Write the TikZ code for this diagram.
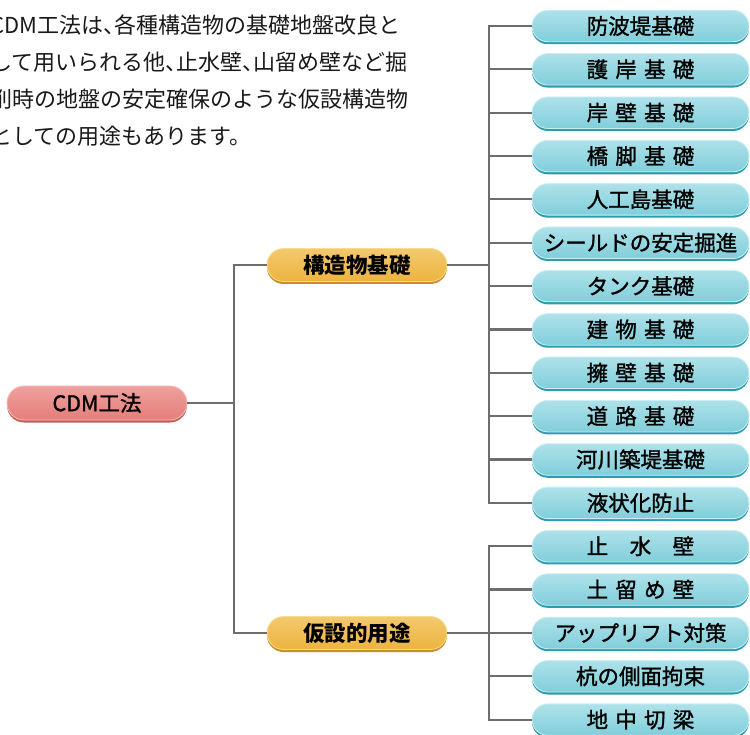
\documentclass[tikz,border=0pt]{standalone}
\usepackage{fontspec}
\newfontfamily\jpfont[WordSpace=1.5]{Noto Sans CJK JP}
\newfontfamily\jpmid[WordSpace=1.5, FakeBold=1.3]{Noto Sans CJK JP}
\usetikzlibrary{shapes.misc}
\usetikzlibrary{shadows}
\usetikzlibrary{positioning}

\definecolor{lineGray}{HTML}{6D6D6D}
\definecolor{redFill}{HTML}{E57E7A}
\definecolor{redTop}{HTML}{F6BDBA}
\definecolor{redEdge}{HTML}{C25F5C}
\definecolor{orangeFill}{HTML}{EDB33F}
\definecolor{orangeTop}{HTML}{F9DC93}
\definecolor{orangeEdge}{HTML}{C98E25}
\definecolor{blueFill}{HTML}{80CEDA}
\definecolor{blueTop}{HTML}{CDEFF4}
\definecolor{blueEdge}{HTML}{2C9DAE}

\tikzset{
  intro/.style={anchor=base west, align=left, inner sep=0pt, text=black!90,
    font=\jpfont\fontsize{22}{37}\selectfont},
  capsule/.style={rounded rectangle, inner sep=0pt, line width=0.8pt, text=black,
    font=\jpmid\fontsize{21.5}{21.5}\selectfont},
  rootCapsule/.style={capsule, minimum width=180pt, minimum height=34pt,
    draw=redTop, top color=redTop!55!redFill, middle color=redFill, bottom color=redFill,
    general shadow={fill=redEdge, shadow yshift=-2.5pt}},
  midCapsule/.style={capsule, minimum width=180pt, minimum height=33pt,
    font=\jpfont\bfseries\fontsize{21.5}{21.5}\selectfont,
    draw=orangeTop, top color=orangeTop!55!orangeFill, middle color=orangeFill, bottom color=orangeFill,
    general shadow={fill=orangeEdge, shadow yshift=-2.5pt}},
  useCapsule/.style={capsule, minimum width=217pt, minimum height=31.5pt,
    draw=blueTop, top color=blueTop!60!blueFill, middle color=blueFill, bottom color=blueFill,
    general shadow={fill=blueEdge, shadow yshift=-2.5pt}},
  branch/.style={draw=lineGray, line width=2.2pt, line join=miter},
}

\begin{document}
\begin{tikzpicture}[x=1pt, y=-1pt]

\pgfmathsetmacro{\ystep}{43.35}

\useasboundingbox (0,0) rectangle (750,735);

% --- Texte ---
\node[intro] (intro) at (-10,144.5) {CDM工法は、\kern-.5em各種構造物の基礎地盤改良と\\
  して用いられる他、\kern-.5em止水壁、\kern-.5em山留め壁など掘\\
  削時の地盤の安定確保のような仮設構造物\\
  としての用途もあります。};

% --- Noeuds ---
\node[rootCapsule] (root) at (97,403) {CDM工法};
\node[midCapsule] (kouzou) at (357,265) {構造物基礎};
\node[midCapsule] (kasetsu) at (357,633) {仮設的用途};

\foreach \lbl [count=\i] in {防波堤基礎, 護 岸 基 礎, 岸 壁 基 礎, 橋 脚 基 礎,
    人工島基礎, シールドの安定掘進, タンク基礎, 建 物 基 礎, 擁 壁 基 礎,
    道 路 基 礎, 河川築堤基礎, 液状化防止, 止　水　壁, 土 留 め 壁,
    アップリフト対策, 杭の側面拘束, 地 中 切 梁} {
  \node[useCapsule] (use\i) at (640.5,{26+(\i-1)*\ystep}) {\lbl};
}

% --- Liaisons ---
\coordinate (hubL) at (234,403);
\coordinate (hubA) at (489,265);
\coordinate (hubB) at (489,633);

\draw[branch] (root.east) -- (hubL);
\draw[branch] (kouzou.west) -| (hubL) |- (kasetsu.west);

\draw[branch] (kouzou.east) -- (hubA);
\draw[branch] (use1.west) -| (hubA) |- (use12.west);
\foreach \i in {2,...,11} {
  \draw[branch] (use\i.west) -- (use\i.west -| hubA);
}

\draw[branch] (kasetsu.east) -- (hubB);
\draw[branch] (use13.west) -| (hubB) |- (use17.west);
\foreach \i in {14,15,16} {
  \draw[branch] (use\i.west) -- (use\i.west -| hubB);
}

\end{tikzpicture}
\end{document}
